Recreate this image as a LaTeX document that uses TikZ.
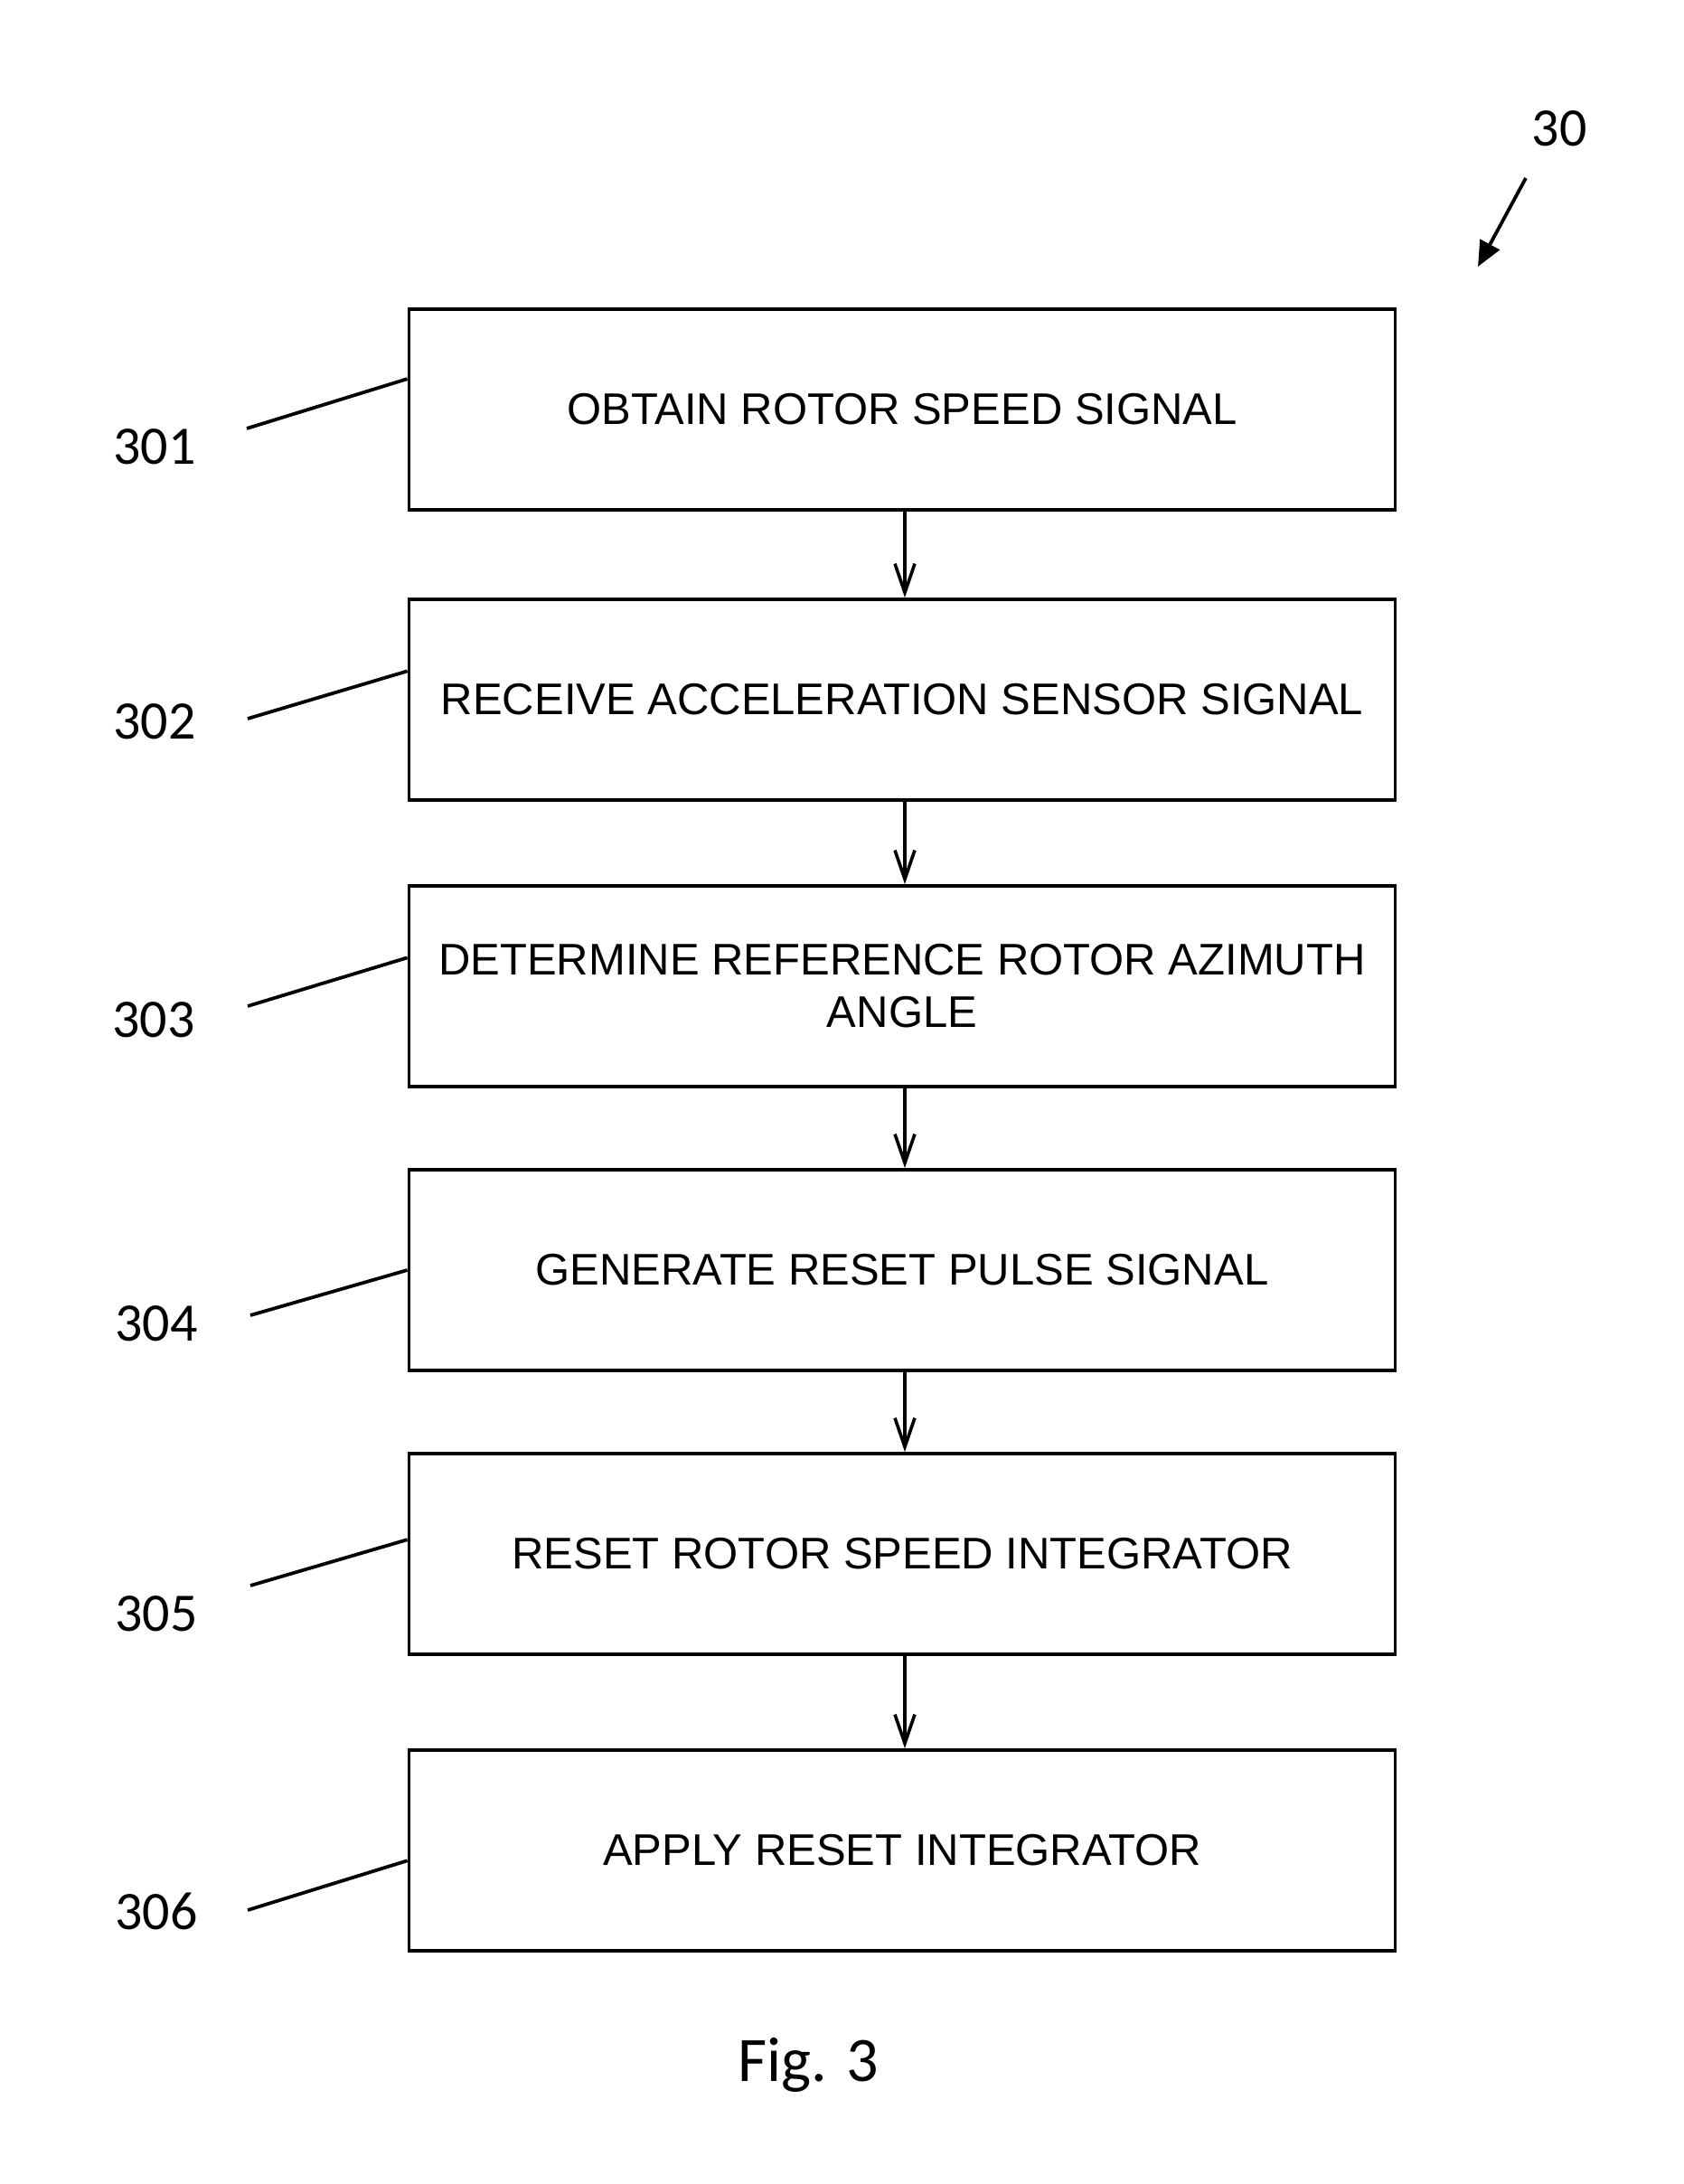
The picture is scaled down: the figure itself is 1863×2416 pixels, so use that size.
\documentclass[tikz,border=0pt]{standalone}
\usepackage{fontspec}
\setmainfont{Liberation Sans}
\newfontfamily\calib{Carlito}
\usetikzlibrary{arrows.meta,calc}
\begin{document}
\begin{tikzpicture}[x=0.5pt,y=-0.5pt,
  stepbox/.style={draw=black,line width=1.9pt,minimum width=545.5pt,minimum height=111pt,
    inner sep=0pt,align=center,font=\fontsize{24.5}{29}\selectfont},
  reflabel/.style={font=\calib\fontsize{30}{36}\selectfont,inner sep=0pt},
  flow/.style={line width=1.8pt,-{Straight Barb[length=16pt,width=11pt,line width=1.8pt]}},
  lead/.style={line width=1.9pt}]
\useasboundingbox (0,0) rectangle (1863,2416);
% title reference
\node[reflabel] (n30) at (1725,142) {30};
\coordinate (a30s) at (1688,197);
\coordinate (a30e) at (1635,295);
\draw[line width=1.9pt,-{Triangle[length=14pt,width=12pt]}] (a30s) -- (a30e);
% boxes
\node[stepbox] (b1) at (998,453) {OBTAIN ROTOR SPEED SIGNAL};
\node[stepbox] (b2) at (998,774) {RECEIVE ACCELERATION SENSOR SIGNAL};
\node[stepbox] (b3) at (998,1091) {DETERMINE REFERENCE ROTOR AZIMUTH\\ANGLE};
\node[stepbox] (b4) at (998,1405) {GENERATE RESET PULSE SIGNAL};
\node[stepbox] (b5) at (998,1719) {RESET ROTOR SPEED INTEGRATOR};
\node[stepbox] (b6) at (998,2047) {APPLY RESET INTEGRATOR};
% arrows
\draw[flow] ([xshift=1.5pt]b1.south) -- ([xshift=1.5pt]b2.north);
\draw[flow] ([xshift=1.5pt]b2.south) -- ([xshift=1.5pt]b3.north);
\draw[flow] ([xshift=1.5pt]b3.south) -- ([xshift=1.5pt]b4.north);
\draw[flow] ([xshift=1.5pt]b4.south) -- ([xshift=1.5pt]b5.north);
\draw[flow] ([xshift=1.5pt]b5.south) -- ([xshift=1.5pt]b6.north);
% reference labels
\node[reflabel] (l1) at (171,494) {301};
\node[reflabel] (l2) at (171,798) {302};
\node[reflabel] (l3) at (170,1128) {303};
\node[reflabel] (l4) at (173,1464) {304};
\node[reflabel] (l5) at (173,1785) {305};
\node[reflabel] (l6) at (173,2114) {306};
\coordinate (s1) at (273,474);
\coordinate (s2) at (274,795);
\coordinate (s3) at (274,1113);
\coordinate (s4) at (277,1455);
\coordinate (s5) at (277,1754);
\coordinate (s6) at (274,2113);
\draw[lead] (s1) -- ($(b1.north west)!0.35!(b1.south west)$);
\draw[lead] (s2) -- ($(b2.north west)!0.36!(b2.south west)$);
\draw[lead] (s3) -- ($(b3.north west)!0.36!(b3.south west)$);
\draw[lead] (s4) -- ($(b4.north west)!0.50!(b4.south west)$);
\draw[lead] (s5) -- ($(b5.north west)!0.43!(b5.south west)$);
\draw[lead] (s6) -- ($(b6.north west)!0.55!(b6.south west)$);
% caption
\node[font=\calib\fontsize{35}{42}\selectfont,inner sep=0pt,anchor=base] (cap) at (894,2302) {Fig. 3};
\end{tikzpicture}
\end{document}
